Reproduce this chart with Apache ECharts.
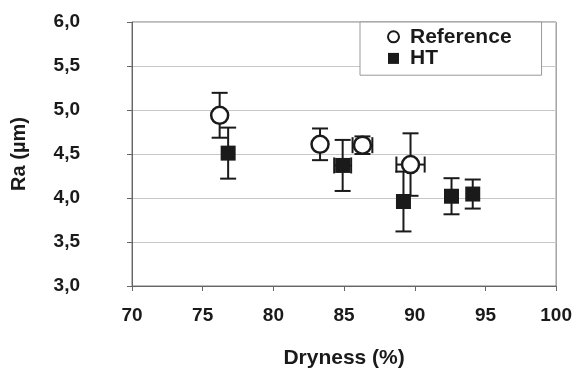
<!DOCTYPE html>
<html style="height: 100%">
<head>
	<meta charset="utf-8">
	<script src="https://cdn.jsdelivr.net/npm/echarts@6/dist/echarts.min.js"></script>
</head>
<body style="height: 100%; margin: 0; background: #fff">
	<div id="container" style="width: 575px; height: 374px"></div>
	<script type="text/javascript">
		// Reference samples: dryness (%), Ra (µm), error bars
		let refX = [76.2, 83.3, 86.3, 89.7];
		let refY = [4.94, 4.61, 4.60, 4.38];
		let refYErr = [0.255, 0.18, 0.1, 0.355];
		let refXErr = [0, 0, 0.7, 1.0];

		// HT samples
		let htX = [76.8, 84.9, 89.2, 92.6, 94.1];
		let htY = [4.51, 4.37, 3.96, 4.02, 4.045];
		let htYErr = [0.29, 0.29, 0.34, 0.205, 0.165];
		let htXErr = [0, 0.6, 0, 0, 0];

		let font = 'Liberation Sans, Arial, sans-serif';
		let ink = '#1a1a1a';

		function points(xs, ys) {
			return xs.map(function (x, i) { return [x, ys[i]]; });
		}
		function errRows(xs, ys, ye, xe) {
			return xs.map(function (x, i) { return [x, ys[i], ye[i], xe[i]]; });
		}

		// draws the whisker lines with caps
		function renderErr(params, api) {
			let x = api.value(0), y = api.value(1);
			let ye = api.value(2), xe = api.value(3);
			let st = { stroke: ink, lineWidth: 2 };
			let cap = 8;
			let kids = [];
			if (ye > 0) {
				let t = api.coord([x, y + ye]);
				let b = api.coord([x, y - ye]);
				kids.push({ type: 'line', shape: { x1: t[0], y1: t[1], x2: b[0], y2: b[1] }, style: st });
				kids.push({ type: 'line', shape: { x1: t[0] - cap, y1: t[1], x2: t[0] + cap, y2: t[1] }, style: st });
				kids.push({ type: 'line', shape: { x1: b[0] - cap, y1: b[1], x2: b[0] + cap, y2: b[1] }, style: st });
			}
			if (xe > 0) {
				let l = api.coord([x - xe, y]);
				let r = api.coord([x + xe, y]);
				kids.push({ type: 'line', shape: { x1: l[0], y1: l[1], x2: r[0], y2: r[1] }, style: st });
				kids.push({ type: 'line', shape: { x1: l[0], y1: l[1] - cap, x2: l[0], y2: l[1] + cap }, style: st });
				kids.push({ type: 'line', shape: { x1: r[0], y1: r[1] - cap, x2: r[0], y2: r[1] + cap }, style: st });
			}
			return { type: 'group', children: kids };
		}

		let myChart = echarts.init(document.getElementById('container'));
		let option = {
			animation: false,
			grid: {
				left: 132, right: 18, top: 22, bottom: 81,
				show: true, borderColor: '#777', borderWidth: 1
			},
			legend: {
				orient: 'vertical',
				left: 360, top: 22,
				padding: [4, 30, 6, 27],
				itemGap: 0,
				itemWidth: 11, itemHeight: 11,
				backgroundColor: '#fff',
				borderColor: '#999', borderWidth: 1,
				textStyle: { fontFamily: font, fontWeight: 'bold', fontSize: 21, color: ink, lineHeight: 21.6, padding: [0, 0, 0, 6] },
				data: ['Reference', 'HT']
			},
			xAxis: {
				type: 'value', min: 70, max: 100, interval: 5,
				name: 'Dryness (%)', nameLocation: 'middle', nameGap: 62,
				nameTextStyle: { fontFamily: font, fontWeight: 'bold', fontSize: 21, color: ink },
				axisLine: { lineStyle: { color: '#666', width: 1 } },
				axisTick: { show: true, length: 5, lineStyle: { color: '#666' } },
				axisLabel: { margin: 20, fontFamily: font, fontWeight: 'bold', fontSize: 19, color: ink },
				splitLine: { show: false }
			},
			yAxis: {
				type: 'value', min: 3, max: 6, interval: 0.5,
				name: 'Ra (µm)', nameLocation: 'middle', nameGap: 103,
				nameTextStyle: { fontFamily: font, fontWeight: 'bold', fontSize: 20, color: ink },
				axisLine: { show: true, lineStyle: { color: '#666', width: 1 } },
				axisTick: { show: true, length: 5, lineStyle: { color: '#666' } },
				axisLabel: {
					margin: 52, fontFamily: font, fontWeight: 'bold', fontSize: 19, color: ink,
					formatter: function (v) { return v.toFixed(1).replace('.', ','); }
				},
				splitLine: { lineStyle: { color: '#c8c8c8' } }
			},
			series: [
				{
					name: 'refErr', type: 'custom', z: 1,
					renderItem: renderErr, encode: { x: 0, y: 1 },
					data: errRows(refX, refY, refYErr, refXErr)
				},
				{
					name: 'htErr', type: 'custom', z: 1,
					renderItem: renderErr, encode: { x: 0, y: 1 },
					data: errRows(htX, htY, htYErr, htXErr)
				},
				{
					name: 'Reference', type: 'scatter', z: 3,
					symbol: 'circle', symbolSize: 17,
					itemStyle: { color: '#fff', borderColor: ink, borderWidth: 2.5, opacity: 1 },
					data: points(refX, refY)
				},
				{
					name: 'HT', type: 'scatter', z: 4,
					symbol: 'rect', symbolSize: 15,
					itemStyle: { color: ink, opacity: 1 },
					data: points(htX, htY)
				}
			]
		};
		myChart.setOption(option);
	</script>
</body>
</html>
